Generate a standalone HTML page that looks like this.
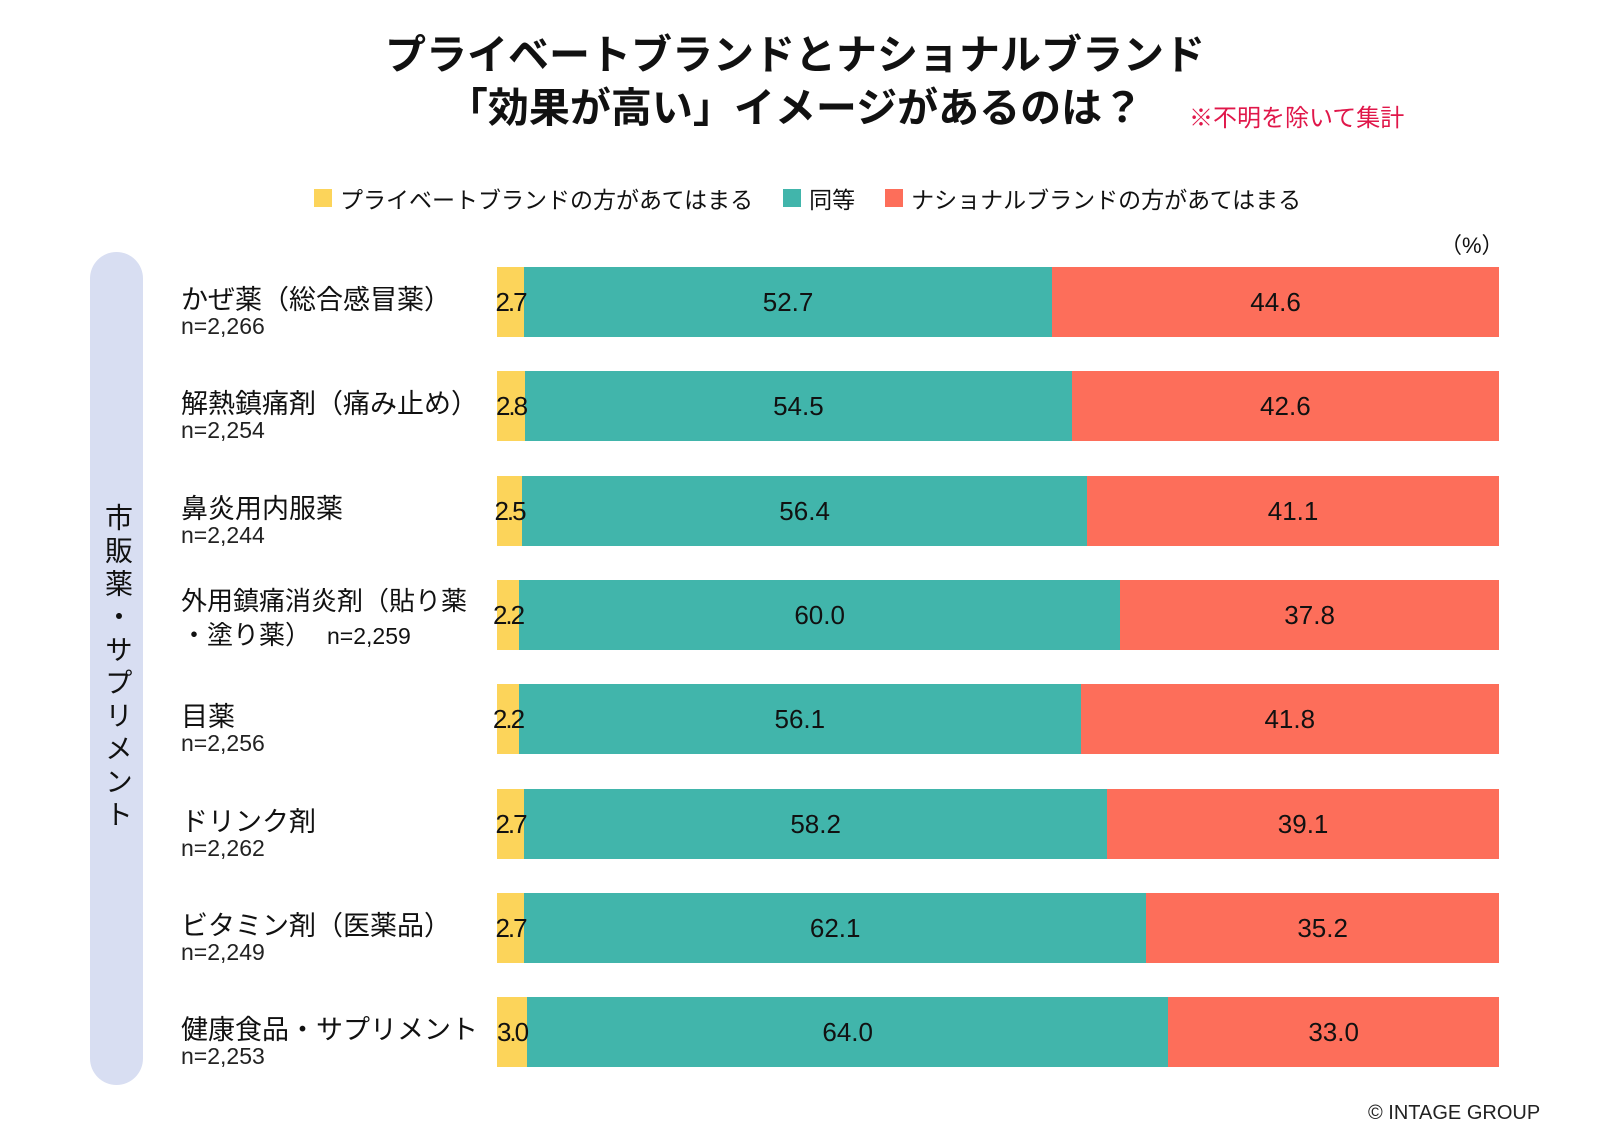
<!DOCTYPE html>
<html><head><meta charset="utf-8"><style>
body{margin:0;width:1600px;height:1140px;background:#fff;font-family:"Liberation Sans","Noto Sans CJK JP",sans-serif;overflow:hidden;position:relative;color:#111}
.t{position:absolute;white-space:nowrap}
</style></head><body>
<div class="t" style="left:0;width:1590px;text-align:center;top:29px;font-size:41px;font-weight:bold;line-height:53px">プライベートブランドとナショナルブランド<br>「効果が高い」イメージがあるのは？</div>
<div class="t" style="left:1189px;top:98px;font-size:24px;color:#e0174a">※不明を除いて集計</div>
<div class="t" style="left:314px;top:181px;font-size:23px;display:flex;align-items:center">
<span style="width:18px;height:18px;background:#fcd45a;margin-right:8px"></span><span>プライベートブランドの方があてはまる</span>
<span style="width:18px;height:18px;background:#41b5ab;margin:0 8px 0 30px"></span><span>同等</span>
<span style="width:18px;height:18px;background:#fd6e5a;margin:0 8px 0 30px"></span><span>ナショナルブランドの方があてはまる</span></div>
<div class="t" style="left:1440px;top:228px;font-size:22px">（%）</div>
<div style="position:absolute;left:90px;top:252px;width:53px;height:833px;border-radius:27px;background:#d8def2"></div>
<div class="t" style="left:102px;top:503px;font-size:28px;writing-mode:vertical-rl;line-height:30px;letter-spacing:5px">市販薬・サプリメント</div>
<div id="chart"></div>
<div class="t" style="left:1368px;top:1102px;font-size:20px;color:#222">© INTAGE GROUP</div>
<script>
const categories=["かぜ薬（総合感冒薬）","解熱鎮痛剤（痛み止め）","鼻炎用内服薬","外用鎮痛消炎剤（貼り薬","目薬","ドリンク剤","ビタミン剤（医薬品）","健康食品・サプリメント"];
const sampleSizes=["n=2,266","n=2,254","n=2,244","n=2,259","n=2,256","n=2,262","n=2,249","n=2,253"];
const pbValues=[2.7,2.8,2.5,2.2,2.2,2.7,2.7,3.0];
const sameValues=[52.7,54.5,56.4,60.0,56.1,58.2,62.1,64.0];
const nbValues=[44.6,42.6,41.1,37.8,41.8,39.1,35.2,33.0];
const X0=497,X1=1499,TOP=267,STEP=104.3,H=70;
const xs=v=>(X1-X0)*v/100;
const c=document.getElementById('chart');
function div(style,text){const d=document.createElement('div');d.className='t';d.style.cssText=style;if(text!==undefined)d.textContent=text;c.appendChild(d);return d;}
const labels=[];
categories.forEach((cat,i)=>{
 const y=TOP+i*STEP;
 if(i===3){
  const l=div(`left:181px;top:${y+4}px;font-size:26px;line-height:34px`);l.innerHTML=cat+'<br>・塗り薬）<span style="font-size:23px;margin-left:16px">'+sampleSizes[i]+'</span>';
  
  
 }else{
  const l=div(`left:181px;top:${y+11}px;font-size:27px`,cat);
  
  
  const n=div(`left:181px;top:${y+46}px;font-size:23px;color:#222`,sampleSizes[i]);
  
  
 }
 const total=pbValues[i]+sameValues[i]+nbValues[i];
 let x=X0;
 [[pbValues[i],'#fcd45a','bar-pb'],[sameValues[i],'#41b5ab','bar-same'],[nbValues[i],'#fd6e5a','bar-nb']].forEach(([v,col,name],k)=>{
  const w=xs(v*100/total);
  const b=div(`left:${x}px;top:${y}px;width:${w}px;height:${H}px;background:${col}`);
  
  
  labels.push([k,x,w,y,v]);
  x+=w;
 });
});
labels.forEach(([k,x,w,y,v])=>{
  const lbl=div(`left:${k===0?x-10:x}px;width:${k===0?w+20:w}px;top:${y}px;height:${H}px;line-height:${H}px;text-align:center;font-size:26px;letter-spacing:${k===0?'-2px':'0'}`,v.toFixed(1));
  
  
});
</script>
</body></html>
